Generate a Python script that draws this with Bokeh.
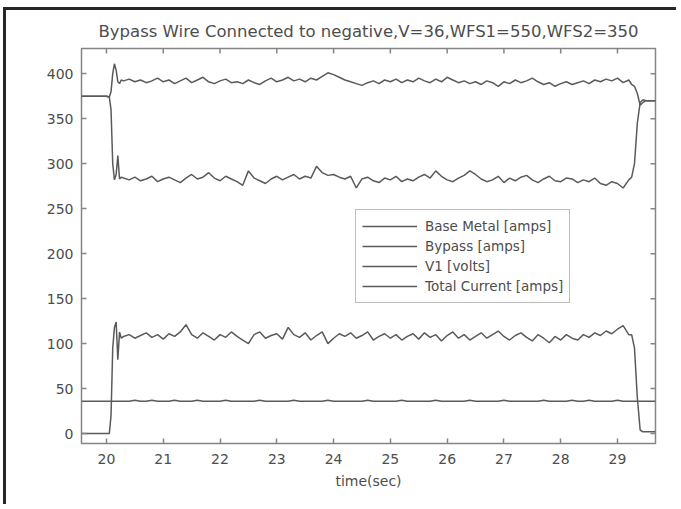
import math
from bokeh.plotting import figure
from bokeh.models import FixedTicker, Range1d, Legend, LegendItem
from bokeh.embed import file_html
from bokeh.resources import INLINE

# ---------------- data ----------------
title_text = "Bypass Wire Connected to negative,V=36,WFS1=550,WFS2=350"
x_label = "time(sec)"
x_ticks = [20, 21, 22, 23, 24, 25, 26, 27, 28, 29]
y_ticks = [0, 50, 100, 150, 200, 250, 300, 350, 400]
series_names = ["Base Metal [amps]", "Bypass [amps]", "V1 [volts]", "Total Current [amps]"]

time_s = [
    19.56, 20.00, 20.05, 20.08, 20.11, 20.14, 20.17, 20.20, 20.23, 20.26,
    20.3, 20.4, 20.5, 20.6, 20.7, 20.8, 20.9, 21.0, 21.1, 21.2,
    21.3, 21.4, 21.5, 21.6, 21.7, 21.8, 21.9, 22.0, 22.1, 22.2,
    22.3, 22.4, 22.5, 22.6, 22.7, 22.8, 22.9, 23.0, 23.1, 23.2,
    23.3, 23.4, 23.5, 23.6, 23.7, 23.8, 23.9, 24.0, 24.1, 24.2,
    24.3, 24.4, 24.5, 24.6, 24.7, 24.8, 24.9, 25.0, 25.1, 25.2,
    25.3, 25.4, 25.5, 25.6, 25.7, 25.8, 25.9, 26.0, 26.1, 26.2,
    26.3, 26.4, 26.5, 26.6, 26.7, 26.8, 26.9, 27.0, 27.1, 27.2,
    27.3, 27.4, 27.5, 27.6, 27.7, 27.8, 27.9, 28.0, 28.1, 28.2,
    28.3, 28.4, 28.5, 28.6, 28.7, 28.8, 28.9, 29.0, 29.1, 29.2,
    29.25, 29.30, 29.35, 29.40, 29.45, 29.50, 29.67,
]

total_current = [
    375, 375, 374, 380, 400, 411, 404, 391, 389, 393,
    392, 394, 391, 393, 390, 392, 395, 391, 393, 389,
    392, 395, 390, 393, 396, 391, 389, 392, 394, 390,
    391, 389, 393, 390, 388, 392, 395, 391, 393, 396,
    392, 394, 391, 395, 393, 397, 401, 399, 396, 393,
    391, 389, 387, 390, 392, 389, 393, 391, 394, 390,
    393, 391, 395, 392, 390, 394, 391, 396, 393, 390,
    392, 389, 391, 388, 392, 390, 386, 391, 389, 393,
    390, 392, 395, 391, 388, 390, 386, 389, 391, 388,
    390, 392, 389, 393, 391, 394, 392, 395, 390, 393,
    388, 386, 378, 365, 368, 370, 370,
]

base_metal = [
    375, 375, 374, 360, 300, 282, 288, 309, 283, 285,
    284, 282, 285, 281, 283, 286, 280, 283, 285, 282,
    279, 284, 288, 283, 285, 290, 284, 281, 286, 283,
    280, 276, 292, 284, 281, 278, 283, 286, 282, 285,
    288, 283, 286, 284, 297, 290, 287, 288, 285, 283,
    286, 273, 283, 285, 281, 279, 284, 282, 286, 280,
    283, 281, 285, 288, 284, 292, 286, 282, 280, 284,
    287, 292, 288, 283, 280, 282, 286, 279, 284, 281,
    285, 287, 282, 279, 283, 286, 281, 280, 284, 283,
    279, 282, 280, 284, 278, 276, 280, 278, 273, 282,
    285, 300, 345, 368, 371, 370, 370,
]

bypass = [
    0, 0, 0, 20, 95, 118, 124, 82, 113, 106,
    108, 110, 106, 109, 112, 107, 110, 105, 111, 108,
    113, 121, 110, 106, 112, 108, 104, 110, 107, 113,
    108, 104, 100, 110, 113, 106, 109, 111, 105, 118,
    110, 107, 112, 104, 109, 113, 100, 106, 111, 108,
    112, 106, 109, 113, 104, 108, 111, 106, 110, 104,
    108, 111, 105, 112, 107, 110, 103, 109, 113, 106,
    110, 104, 108, 112, 106, 110, 114, 108, 104, 109,
    112, 107, 103, 110, 106, 101, 108, 104, 110, 106,
    104, 110, 107, 112, 109, 114, 111, 116, 120, 110,
    110, 95, 40, 4, 2, 2, 2,
]

v1 = [
    36, 36, 36, 36, 36, 36, 36, 36, 36, 36,
    36, 36, 37, 36, 36, 37, 36, 36, 36, 37,
    36, 36, 36, 37, 36, 36, 36, 36, 37, 36,
    36, 36, 36, 36, 37, 36, 36, 36, 36, 36,
    37, 36, 36, 36, 36, 36, 37, 36, 36, 36,
    36, 36, 36, 37, 36, 36, 36, 36, 36, 37,
    36, 36, 36, 36, 36, 37, 36, 36, 36, 36,
    36, 37, 36, 36, 36, 36, 36, 37, 36, 36,
    36, 36, 36, 36, 37, 36, 36, 36, 36, 37,
    36, 36, 37, 36, 36, 36, 36, 37, 36, 36,
    36, 36, 36, 36, 36, 36, 36,
]

x_lim = (19.56, 29.67)
y_lim = (-11, 428)

# ---------------- styling ----------------
FONT = "DejaVu Sans"
TEXT = "#4d4d4d"
LINE = "#5a5a5a"
AXIS = "#858585"

p = figure(
    width=673, height=497,
    output_backend="svg", toolbar_location=None,
    x_range=Range1d(*x_lim), y_range=Range1d(*y_lim),
    min_border_left=75, min_border_right=24,
    min_border_top=38, min_border_bottom=64,
    title=title_text,
)
p.styles = {
    "border-left": "3px solid #262626",
    "border-top": "3px solid #262626",
    "margin-left": "3px",
    "margin-top": "7px",
}
p.background_fill_color = "white"
p.border_fill_color = "white"
p.outline_line_color = AXIS
p.outline_line_width = 1.5
p.grid.visible = False

p.title.align = "center"
p.title.text_font = FONT
p.title.text_font_size = "16.5px"
p.title.text_font_style = "normal"
p.title.text_color = TEXT
p.title.standoff = 16

renderers = []
for ys in (base_metal, bypass, v1, total_current):
    r = p.line(time_s, ys, line_color=LINE, line_width=1.5)
    renderers.append(r)

xa = p.xaxis[0]
ya = p.yaxis[0]
xa.ticker = FixedTicker(ticks=x_ticks)
ya.ticker = FixedTicker(ticks=y_ticks)
xa.axis_label = x_label
for ax in (xa, ya):
    ax.axis_line_color = None
    ax.major_tick_in = 5
    ax.major_tick_out = 0
    ax.major_tick_line_color = AXIS
    ax.major_tick_line_width = 1.5
    ax.minor_tick_line_color = None
    ax.major_label_text_font = FONT
    ax.major_label_text_font_size = "14px"
    ax.major_label_text_color = TEXT
xa.major_label_standoff = 10
ya.major_label_standoff = 8
xa.axis_label_text_font = FONT
xa.axis_label_text_font_size = "14px"
xa.axis_label_text_font_style = "normal"
xa.axis_label_text_color = TEXT
xa.axis_label_standoff = 6

# mirrored inward ticks on the top and right edges (MATLAB box style);
# dash markers centred on the frame edge, the outer half is clipped away
p.scatter(x_ticks, [y_lim[1]] * len(x_ticks), marker="dash", size=10,
          angle=math.pi / 2, line_color=AXIS, line_width=1.5)
p.scatter([x_lim[1]] * len(y_ticks), y_ticks, marker="dash", size=10,
          line_color=AXIS, line_width=1.5)

legend = Legend(
    items=[LegendItem(label=n, renderers=[r]) for n, r in zip(series_names, renderers)],
    location=(274, 140),
    glyph_width=55, glyph_height=20,
    label_height=20, label_standoff=8,
    spacing=0, padding=6, margin=0,
    label_text_font=FONT, label_text_font_size="13.5px", label_text_color=TEXT,
    border_line_color="#7a7a7a", border_line_width=1.5,
    background_fill_color="white", background_fill_alpha=1.0,
)
p.add_layout(legend, "center")

open("out.html", "w").write(file_html(p, INLINE))
